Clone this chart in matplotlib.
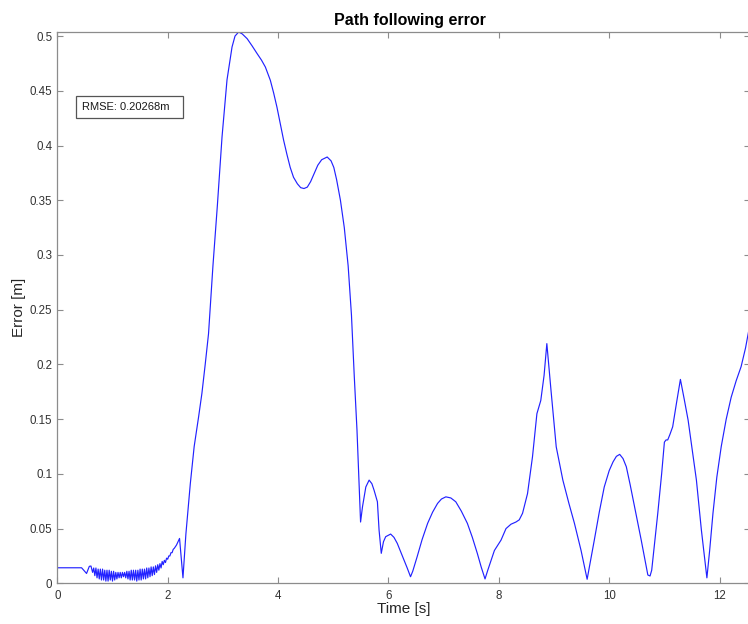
import matplotlib.pyplot as plt
from matplotlib.patches import Rectangle
from matplotlib.ticker import FuncFormatter
import numpy as np

plt.rcParams['font.family'] = ['Liberation Sans', 'DejaVu Sans']

# time [s] and error [m]
time_start = [0.0, 0.44, 0.53, 0.58, 0.61]
err_start = [0.0142, 0.0142, 0.009, 0.0155, 0.0158]

# the noisy stretch before the big jump, sampled every 0.02 s from 0.64 s to 2.12 s
err_noise = [0.010, 0.014, 0.007, 0.014, 0.005, 0.013, 0.004, 0.013, 0.003, 0.013,
             0.003, 0.012, 0.002, 0.012, 0.002, 0.012, 0.003, 0.011, 0.002, 0.011,
             0.003, 0.010, 0.004, 0.010, 0.005, 0.010, 0.005, 0.010, 0.006, 0.010,
             0.005, 0.011, 0.004, 0.011, 0.003, 0.012, 0.003, 0.012, 0.003, 0.012,
             0.002, 0.012, 0.003, 0.013, 0.003, 0.013, 0.004, 0.013, 0.004, 0.014,
             0.005, 0.014, 0.006, 0.015, 0.007, 0.015, 0.008, 0.016, 0.010, 0.017,
             0.012, 0.018, 0.014, 0.020, 0.017, 0.021, 0.019, 0.023, 0.022, 0.025,
             0.025, 0.028, 0.028, 0.031, 0.032]
time_noise = list(np.linspace(0.64, 2.12, len(err_noise)))

time_main = [2.16, 2.215, 2.277, 2.33, 2.41, 2.48, 2.56, 2.62, 2.68, 2.74,
             2.82, 2.90, 2.985, 3.075, 3.166, 3.22, 3.286, 3.35, 3.44, 3.53,
             3.62, 3.70, 3.77, 3.86, 3.92, 3.98, 4.04, 4.10, 4.16, 4.22,
             4.28, 4.35, 4.41, 4.47, 4.53, 4.59, 4.65, 4.72, 4.79, 4.89,
             4.96, 5.01, 5.06, 5.13, 5.20, 5.27, 5.33, 5.38, 5.43, 5.465,
             5.495, 5.53, 5.59, 5.65, 5.70, 5.74, 5.80, 5.83, 5.87, 5.91,
             5.95, 6.04, 6.10, 6.16, 6.22, 6.28, 6.34, 6.40, 6.44, 6.52,
             6.61, 6.71, 6.80, 6.89, 6.96, 7.04, 7.13, 7.22, 7.32, 7.43,
             7.52, 7.61, 7.68, 7.75, 7.80, 7.92, 8.04, 8.13, 8.22, 8.31,
             8.37, 8.43, 8.52, 8.61, 8.69, 8.76, 8.82, 8.87, 8.945, 9.04,
             9.16, 9.27, 9.37, 9.49, 9.60, 9.73, 9.82, 9.91, 10.00, 10.07,
             10.13, 10.19, 10.25, 10.31, 10.38, 10.46, 10.58, 10.70, 10.74, 10.77,
             10.88, 10.95, 11.00, 11.03, 11.06, 11.10, 11.15, 11.22, 11.29, 11.36,
             11.43, 11.58, 11.67, 11.77, 11.82, 11.88, 11.95, 12.03, 12.12, 12.21,
             12.30, 12.39, 12.47, 12.54, 12.60]
err_main = [0.035, 0.041, 0.005, 0.045, 0.091, 0.125, 0.152, 0.1735, 0.200, 0.228,
            0.290, 0.345, 0.408, 0.460, 0.490, 0.500, 0.5037, 0.502, 0.4976, 0.491,
            0.484, 0.478, 0.4717, 0.4596, 0.448, 0.435, 0.420, 0.405, 0.392, 0.380,
            0.371, 0.365, 0.3615, 0.3607, 0.362, 0.367, 0.374, 0.382, 0.387, 0.3895,
            0.386, 0.380, 0.369, 0.350, 0.325, 0.290, 0.245, 0.190, 0.140, 0.095,
            0.056, 0.070, 0.088, 0.0943, 0.091, 0.085, 0.0745, 0.0487, 0.0274, 0.038,
            0.0426, 0.045, 0.042, 0.0365, 0.029, 0.0213, 0.014, 0.006, 0.011, 0.0243,
            0.040, 0.0548, 0.065, 0.073, 0.077, 0.079, 0.078, 0.0745, 0.066, 0.0548,
            0.042, 0.0274, 0.015, 0.004, 0.012, 0.030, 0.0395, 0.050, 0.054, 0.056,
            0.058, 0.064, 0.082, 0.1156, 0.155, 0.167, 0.190, 0.219, 0.1765, 0.1247,
            0.0943, 0.073, 0.0548, 0.030, 0.0037, 0.0395, 0.065, 0.088, 0.103, 0.111,
            0.116, 0.1178, 0.114, 0.1065, 0.090, 0.070, 0.0395, 0.0076, 0.0067, 0.012,
            0.064, 0.100, 0.129, 0.131, 0.131, 0.136, 0.143, 0.165, 0.1863, 0.168,
            0.149, 0.0943, 0.0487, 0.005, 0.030, 0.064, 0.097, 0.125, 0.150, 0.170,
            0.185, 0.198, 0.215, 0.234, 0.250]

x_ticks = [0, 2, 4, 6, 8, 10, 12]
y_ticks = [0, 0.05, 0.1, 0.15, 0.2, 0.25, 0.3, 0.35, 0.4, 0.45, 0.5]
rmse_label = 'RMSE: 0.20268m'

t = np.array(time_start + time_noise + time_main)
e = np.array(err_start + err_noise + err_main)

fig = plt.figure(figsize=(7.48, 6.24), dpi=100)
ax = fig.add_axes([0.0766, 0.0652, 0.926, 0.8835])

ax.plot(t, e, color='#2222ff', linewidth=0.85)

ax.set_xlim(0, 12.55)
ax.set_ylim(0, 0.5037)
ax.set_xticks(x_ticks)
ax.set_yticks(y_ticks)
ax.yaxis.set_major_formatter(FuncFormatter(lambda v, _: '%g' % v))

spine_col = '#8c8c8c'
for s in ax.spines.values():
    s.set_color(spine_col)
    s.set_linewidth(0.9)
ax.tick_params(direction='in', length=4.5, width=0.8, color=spine_col,
               labelsize=8.3, labelcolor='#333333', top=True, right=True)
ax.tick_params(axis='y', pad=3.5)
ax.tick_params(axis='x', pad=5)

ax.set_xlabel('Time [s]', fontsize=11, color='#262626', labelpad=0)
ax.set_ylabel('Error [m]', fontsize=11, color='#262626', labelpad=3)
ax.set_title('Path following error', fontsize=11.5, fontweight='bold', pad=5, x=0.509)

# MATLAB style text box
ax.add_patch(Rectangle((0.0271, 0.844), 0.1539, 0.0399, transform=ax.transAxes,
                       facecolor='white', edgecolor='#555555', linewidth=0.9, zorder=5))
ax.text(0.0353, 0.864, rmse_label, transform=ax.transAxes, fontsize=8,
        va='center', ha='left', color='#1a1a1a', zorder=6)

plt.savefig('out.png', dpi=100)
